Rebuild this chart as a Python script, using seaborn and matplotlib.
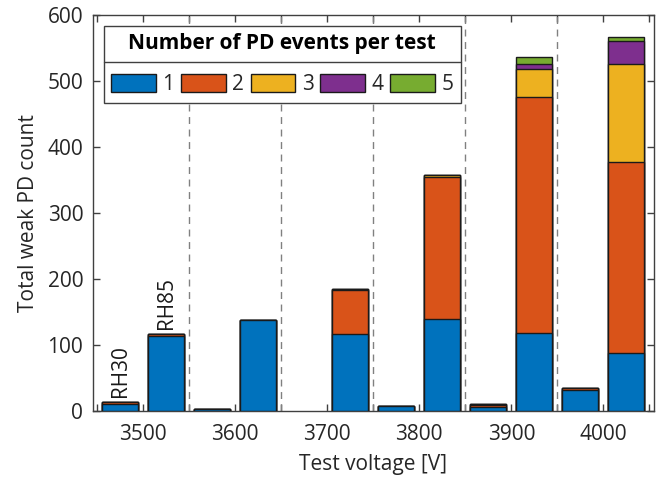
import numpy as np
import pandas as pd
import seaborn as sns
import matplotlib.pyplot as plt
from matplotlib.patches import Patch
from matplotlib.lines import Line2D

sns.set_theme(style="white")
plt.rcParams['font.family'] = ['Open Sans', 'DejaVu Sans']

# data: counts of weak PD events, split by number of events per test
voltages = ["3500", "3600", "3700", "3800", "3900", "4000"]
humidity = ["RH30", "RH85"]
n_events = ["1", "2", "3", "4", "5"]

# one list per (humidity, n_events) -> values for each voltage
rh30 = {
    "1": [10, 3, 0, 8, 6, 32],
    "2": [3, 0, 0, 0, 3, 3],
    "3": [0, 0, 0, 0, 1, 0],
    "4": [0, 0, 0, 0, 0, 0],
    "5": [0, 0, 0, 0, 0, 0],
}
rh85 = {
    "1": [113, 138, 116, 140, 118, 88],
    "2": [3, 0, 67, 215, 357, 290],
    "3": [0, 0, 2, 3, 43, 147],
    "4": [0, 0, 0, 0, 8, 35],
    "5": [0, 0, 0, 0, 10, 7],
}
colors = ["#0072BD", "#D95319", "#EDB120", "#7E2F8E", "#77AC30"]

rows = []
for rh, d in zip(humidity, [rh30, rh85]):
    cum = np.zeros(len(voltages))
    for k in n_events:
        cum = cum + np.array(d[k])
        for v, c in zip(voltages, cum):
            rows.append({"voltage": v, "RH": rh, "events": k,
                         "cum": c if c > 0 else np.nan})
df = pd.DataFrame(rows)

fig = plt.figure(figsize=(6.61, 4.82), dpi=100)
ax = fig.add_axes([0.1407, 0.1473, 0.8487, 0.8216])

# stacked bars: draw cumulative totals, largest first
for k, col in reversed(list(zip(n_events, colors))):
    sub = df[df["events"] == k]
    sns.barplot(data=sub, x="voltage", y="cum", hue="RH", hue_order=humidity,
                order=voltages, palette=[col, col], saturation=1, width=1.0,
                gap=0.22, dodge=True, edgecolor="#1a1a1a", linewidth=1.0,
                legend=False, ax=ax, zorder=3)

# group separators
for b in np.arange(0.5, len(voltages) - 1, 1.0):
    ax.axvline(b, color="#808080", lw=1.0, ls=(0, (5, 4)), zorder=1)

# RH labels on first group
tot = df[(df["events"] == "5") & (df["voltage"] == voltages[0])]
for off, rh in zip([-0.25, 0.25], humidity):
    t = tot[tot["RH"] == rh]["cum"].iloc[0]
    ax.text(off, t + 8, rh, rotation=90, ha="center", va="bottom", fontsize=15,
            color="#1a1a1a")

ax.set_xlim(-0.545, 5.55)
ax.set_ylim(0, 600)
ax.set_yticks(range(0, 601, 100))
ax.set_xticks(range(len(voltages)))
ax.set_xticklabels(voltages)
ax.set_xticks(np.arange(-0.5, len(voltages), 1.0), minor=True)
ax.tick_params(axis="both", which="both", direction="in", top=True, right=True,
               bottom=True, left=True, length=5, width=1.0, color="#404040",
               labelsize=15, labelcolor="#262626")
ax.tick_params(axis="x", which="major", pad=9)
ax.tick_params(axis="y", which="major", pad=7)
ax.set_xlabel("Test voltage [V]", fontsize=15, color="#262626", labelpad=7)
ax.set_ylabel("Total weak PD count", fontsize=15, color="#262626", labelpad=6)
for s in ax.spines.values():
    s.set_color("#404040")
    s.set_linewidth(1.0)

handles = [Patch(facecolor=c, edgecolor="#1a1a1a", linewidth=1.0) for c in colors]
leg = ax.legend(handles, n_events, ncol=5, loc="upper left",
                bbox_to_anchor=(0.019, 0.972), title="Number of PD events per test",
                title_fontproperties={"weight": "bold", "size": 15}, fontsize=15,
                handlelength=2.15, handleheight=0.95, handletextpad=0.3,
                columnspacing=0.33, borderpad=0.35, labelspacing=0.95,
                fancybox=False, edgecolor="#404040", framealpha=1.0,
                borderaxespad=0)
leg.get_frame().set_linewidth(1.0)
leg.get_title().set_color("#000000")
leg.set_zorder(5)

# divider between legend title and entries
fig.canvas.draw()
fb = leg.get_frame().get_window_extent()
tb = leg.get_title().get_window_extent()
ydiv = tb.y0 - 8
fig.add_artist(Line2D([fb.x0, fb.x1], [ydiv, ydiv], transform=None,
                      color="#404040", lw=1.0, zorder=6))

fig.savefig("out.png", dpi=100)
